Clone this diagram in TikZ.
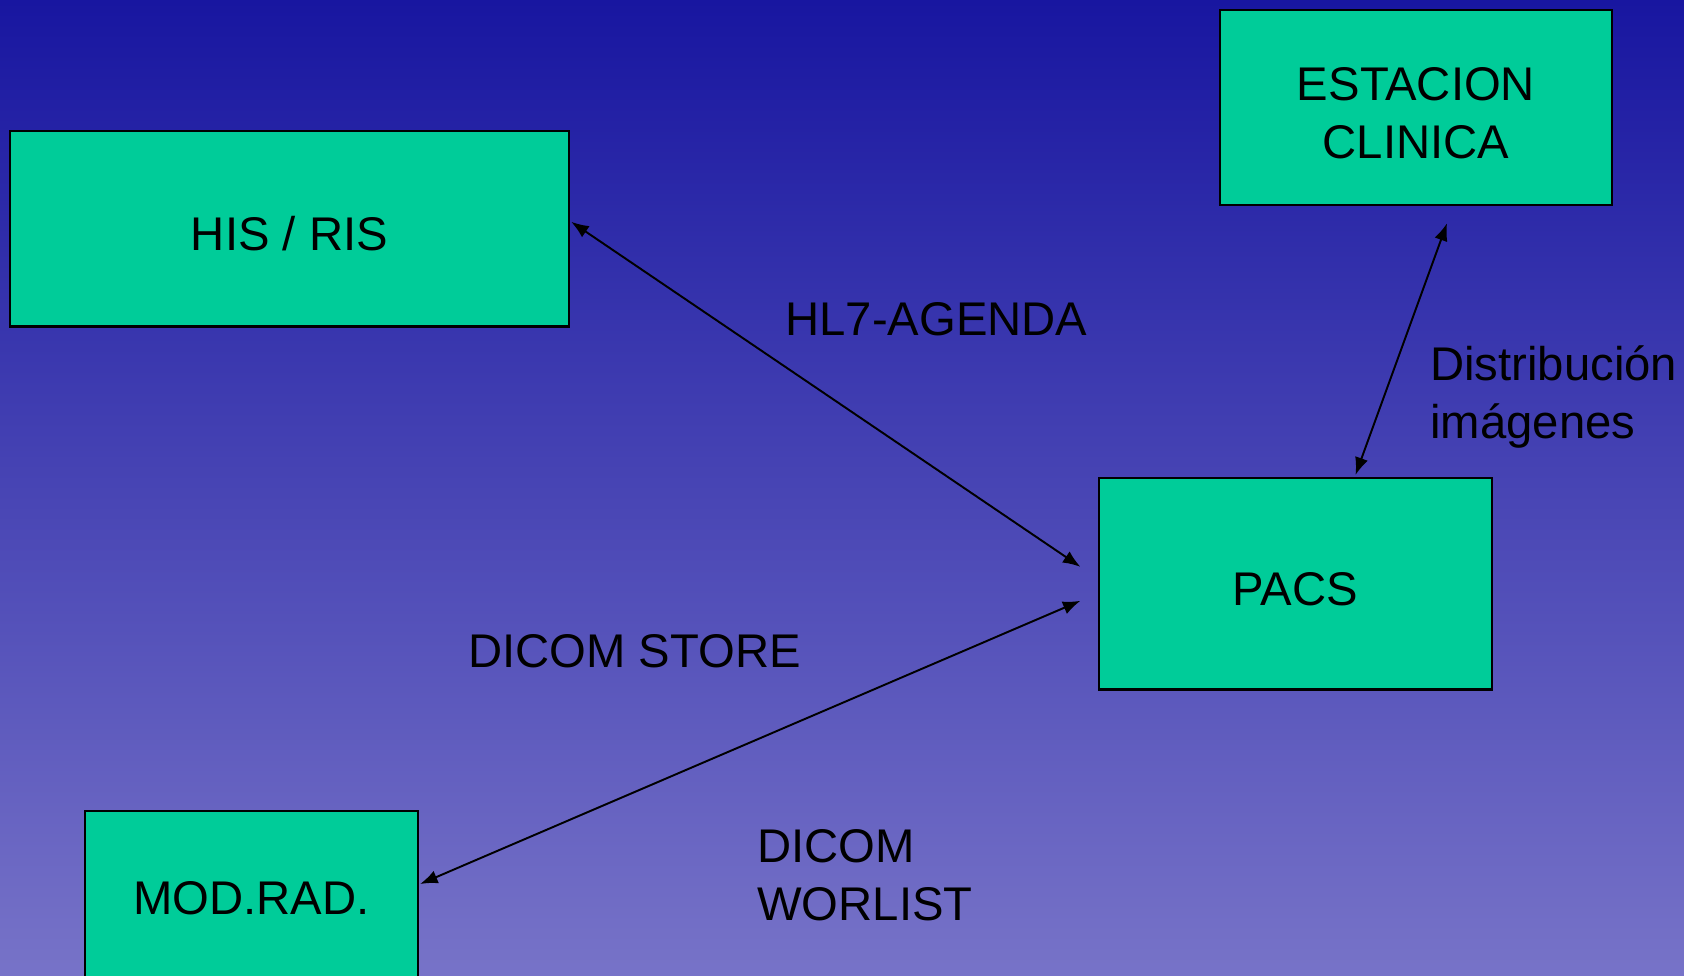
\documentclass[tikz,border=0pt]{standalone}
\usepackage{fontspec}
\setmainfont{Liberation Sans}
\usepackage{tikz}
\usetikzlibrary{calc}
\usetikzlibrary{arrows.meta}
\definecolor{boxgreen}{RGB}{0,204,153}
\definecolor{bgtop}{RGB}{24,22,160}
\definecolor{bgbottom}{RGB}{119,115,200}
\newcommand{\diagfont}{\fontsize{26.9}{33}\selectfont}
\begin{document}
\begin{tikzpicture}[x=0.02cm,y=-0.02cm,
	box/.style={draw=black,line width=1.3pt,fill=boxgreen,inner sep=0pt,align=center,font=\diagfont,text depth=0pt,text height=0.88cm},
	lbl/.style={inner sep=0pt,anchor=base west,align=left,font=\diagfont},
	link/.style={{Latex[length=3.5mm,width=2.7mm]}-{Latex[length=3.5mm,width=2.7mm]},line width=1.1pt}]
		\useasboundingbox (0,0) rectangle (1684,975);
		\shade[top color=bgtop,bottom color=bgbottom] (0,0) rectangle (1684,975);
		% the four systems
		\node[box,minimum width=11.19cm,minimum height=3.91cm] (his) at (289.4,228.8) {HIS / RIS};
		\node[box,text height=2.04cm,minimum width=7.84cm,minimum height=3.91cm] (est) at (1416,107.4) {ESTACION\\CLINICA};
		\node[box,minimum width=7.86cm,minimum height=4.23cm] (pacs) at (1295.5,583.8) {PACS};
		\node[box,text height=,minimum width=6.66cm,minimum height=3.48cm] (mod) at (251.5,898) {MOD.RAD.};
		% links
		\draw[link] ($(his.east)+(1,-7)$) -- ($(pacs.west)+(-17.5,-17)$);
		\draw[link] ($(mod.east)+(1,-14)$) -- ($(pacs.west)+(-17.5,17)$);
		\draw[link] ($(pacs.north)+(60,-2)$) -- ($(est.south)+(31,17)$);
		% labels
		\node[lbl] (hl7) at (785,335) {HL7-AGENDA};
		\node[lbl] (store) at (468,667) {DICOM STORE};
		\node[lbl] (distrib) at (1430,438) {Distribución\\imágenes};
		\node[lbl] (worlist) at (757,920) {DICOM\\WORLIST};
	\end{tikzpicture}
\end{document}
